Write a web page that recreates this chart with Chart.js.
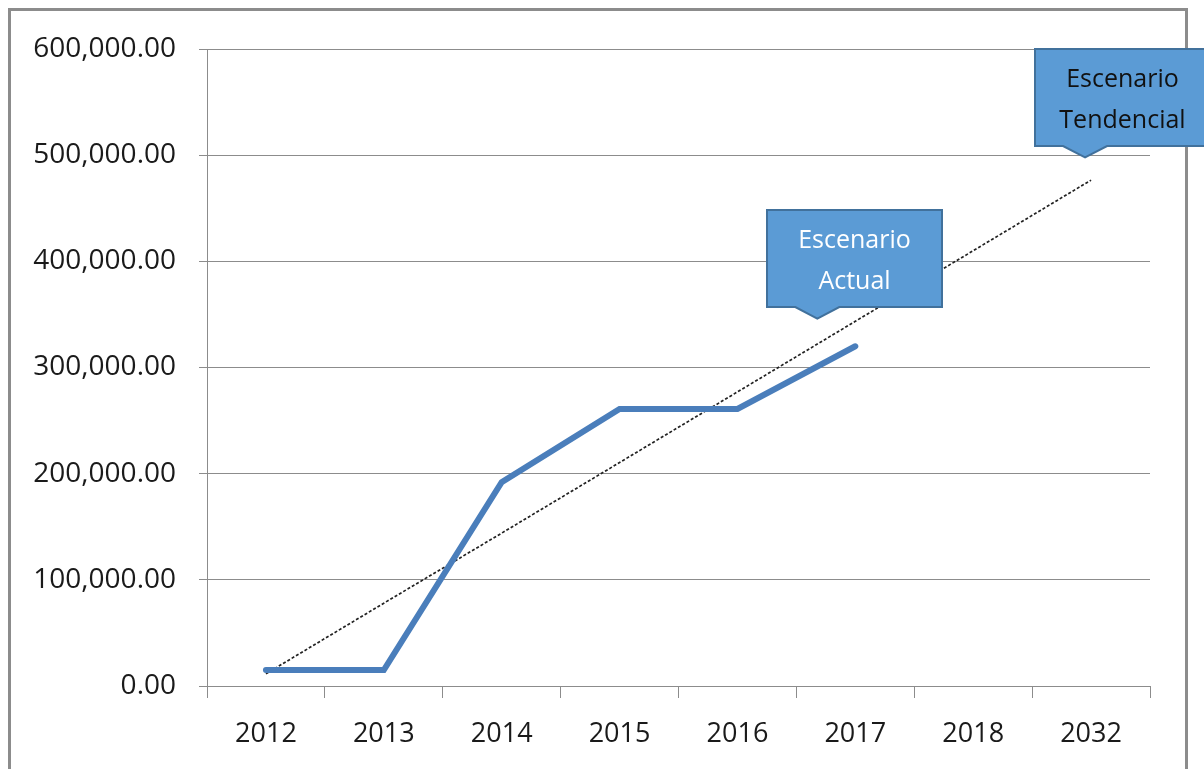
<!DOCTYPE html>
<html>
<head>
<meta charset="utf-8">
<script src="https://cdn.jsdelivr.net/npm/chart.js@4"></script>
<style>
  html, body { margin: 0; padding: 0; background: #fff; }
  #wrap { width: 1204px; height: 769px; }
</style>
</head>
<body>
<div id="wrap"><canvas id="chart" width="1204" height="769"></canvas></div>
<script>
const years = ["2012", "2013", "2014", "2015", "2016", "2017", "2018", "2032"];
const actual = [15000, 15000, 192000, 261000, 261000, 320000, null, null];
const trend = [11500, 78000, 144000, 210500, 277000, 343500, 410000, 476500];
const yTicks = [0, 100000, 200000, 300000, 400000, 500000, 600000];

const callouts = [
  { lines: ["Escenario", "Actual"], x: "2017", y: 346000, shift: -38, box: [767, 210, 175, 97], color: "#fff" },
  { lines: ["Escenario", "Tendencial"], x: "2032", y: 498000, shift: -6, box: [1035, 49, 175, 97], color: "#111" }
];

const frame = {
  id: "frame",
  beforeDraw(chart) {
    const ctx = chart.ctx;
    ctx.save();
    ctx.fillStyle = "#fff";
    ctx.fillRect(0, 0, chart.width, chart.height);
    ctx.strokeStyle = "#8c8c8c";
    ctx.lineWidth = 3;
    ctx.strokeRect(9.5, 9.5, 1177, 800);
    ctx.restore();
  },
  afterDraw(chart) {
    const ctx = chart.ctx;
    const xs = chart.scales.x, ys = chart.scales.y;
    ctx.save();
    callouts.forEach(c => {
      const [bx, by, bw, bh] = c.box;
      const tipX = xs.getPixelForValue(years.indexOf(c.x)) + c.shift;
      const tipY = ys.getPixelForValue(c.y);
      ctx.beginPath();
      ctx.moveTo(bx, by);
      ctx.lineTo(bx + bw, by);
      ctx.lineTo(bx + bw, by + bh);
      ctx.lineTo(tipX + 22, by + bh);
      ctx.lineTo(tipX, tipY);
      ctx.lineTo(tipX - 22, by + bh);
      ctx.lineTo(bx, by + bh);
      ctx.closePath();
      ctx.fillStyle = "#5b9bd5";
      ctx.fill();
      ctx.strokeStyle = "#41719c";
      ctx.lineWidth = 2;
      ctx.stroke();
      ctx.fillStyle = c.color;
      ctx.font = "25px 'Open Sans', sans-serif";
      ctx.textAlign = "center";
      ctx.textBaseline = "middle";
      ctx.fillText(c.lines[0], bx + bw / 2, by + 31);
      ctx.fillText(c.lines[1], bx + bw / 2, by + 72);
    });
    ctx.restore();
  }
};

new Chart(document.getElementById("chart"), {
  type: "line",
  data: {
    labels: years,
    datasets: [{
      label: "Escenario Actual",
      data: actual,
      borderColor: "#4a7ebb",
      borderWidth: 6,
      borderCapStyle: "round",
      pointRadius: 0,
      tension: 0,
      spanGaps: false
    }, {
      label: "Tendencia",
      data: trend,
      borderColor: "#222",
      borderWidth: 1.7,
      borderDash: [3, 2],
      pointRadius: 0,
      tension: 0
    }]
  },
  options: {
    responsive: false,
    animation: false,
    layout: { padding: { left: 0, top: 49, right: 54, bottom: 0 } },
    plugins: { legend: { display: false }, tooltip: { enabled: false } },
    scales: {
      x: {
        offset: true,
        afterFit: s => { s.height = 83; },
        grid: { drawOnChartArea: false, offset: true, tickLength: 12, color: "#8c8c8c" },
        border: { color: "#8c8c8c" },
        ticks: { padding: 20, color: "#1a1a1a", font: { family: "'Open Sans', sans-serif", size: 27 } }
      },
      y: {
        min: 0,
        max: 600000,
        afterFit: s => { s.width = 207; },
        afterBuildTicks: s => { s.ticks = yTicks.map(v => ({ value: v })); },
        grid: { color: "#8c8c8c", tickLength: 8 },
        border: { color: "#8c8c8c" },
        ticks: {
          padding: 23,
          color: "#1a1a1a",
          font: { family: "'Open Sans', sans-serif", size: 28 },
          callback: v => v.toLocaleString("en-US", { minimumFractionDigits: 2, maximumFractionDigits: 2 })
        }
      }
    }
  },
  plugins: [frame]
});
</script>
</body>
</html>
